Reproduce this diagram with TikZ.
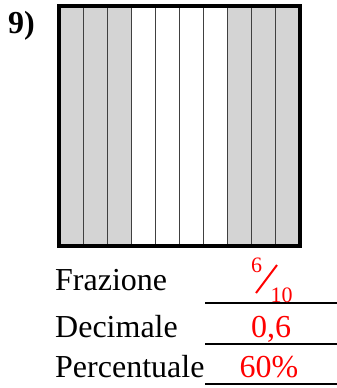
\documentclass[tikz,border=0pt]{standalone}
\usepackage{fontspec}
\setmainfont{Liberation Serif}
\begin{document}
\begin{tikzpicture}[x=1pt,y=-1pt,
	label/.style={anchor=base west, inner sep=0pt, font=\fontsize{32}{38}\selectfont},
	answer/.style={anchor=base, inner sep=0pt, red, font=\fontsize{32}{38}\selectfont},
	small/.style={anchor=base, inner sep=0pt, red, font=\fontsize{22}{26}\selectfont}]
	\useasboundingbox (0,0) rectangle (337,388);
	% strips of the square
	\foreach \i in {0,...,9} {
		\ifnum\i<3 \def\col{black!17}\else\ifnum\i>6 \def\col{black!17}\else\def\col{white}\fi\fi
		\path [fill=\col] (59+24*\i,6) rectangle (83+24*\i,246);
	}
	\foreach \i in {1,...,9} \draw [line width=1pt, black!75] (59+24*\i,6) -- (59+24*\i,246);
	\draw [line width=4pt] (59.3,6) rectangle (299.7,245.7);
	\node [anchor=base west, inner sep=0pt, font=\fontsize{32}{38}\selectfont\bfseries] (num) at (8,33) {9)};
	% labels and answers
	\node [label] (fraz) at (55,290) {Frazione};
	\node [label] (deci) at (55,337) {Decimale};
	\node [label] (perc) at (55,377) {Percentuale};
	\foreach \y in {303,344,384} \draw [line width=2pt] (205,\y) -- (337,\y);
	\node [small] (num6) at (256.5,272) {6};
	\node [small] (den10) at (281.5,302) {10};
	\draw [red, line width=2pt] (256,293) -- (277,265);
	\node [answer] (dec) at (271,337) {0,6};
	\node [answer] (pct) at (269,377) {60\%};
\end{tikzpicture}
\end{document}
